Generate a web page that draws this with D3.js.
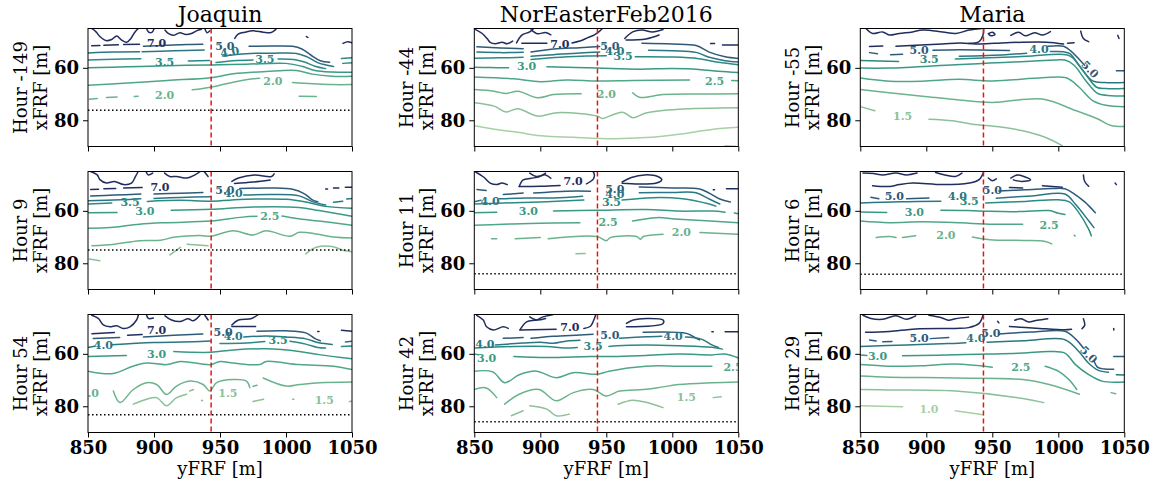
<!DOCTYPE html>
<html>
<head>
<meta charset="utf-8">
<script src="https://cdn.jsdelivr.net/npm/d3@7"></script>
<style>
  body { margin: 0; background: #fff; }
  svg { display: block; }
  text { font-family: "DejaVu Serif", serif; }
</style>
</head>
<body>
<svg id="chart" width="1156" height="485"></svg>
<script>
// ---- storms, hours and reference lines -------------------------------------
const storms = ["Joaquin", "NorEasterFeb2016", "Maria"];
const joaquinHours = [-149, 9, 54];
const noreasterHours = [-44, 11, 42];
const mariaHours = [-55, 6, 29];
const joaquinLimits = [76.2, 74.9, 83.2];     // dotted xFRF line, per hour
const noreasterLimits = [null, 84.0, 85.9];
const mariaLimits = [null, 84.2, null];
const pierY = 943.3;                           // red dashed yFRF line

const levels = [1.0, 1.5, 2.0, 2.5, 3.0, 3.5, 4.0, 5.0, 7.0];
const levelColors = ["#a9d0a5", "#8cc198", "#6bb38c", "#4fa787", "#3a9985",
                     "#2b8a83", "#2b7682", "#2e5a79", "#212d5d"];
const xTicks = [850, 900, 950, 1000, 1050];
const yTicks = [60, 80];
const xDomain = [850, 1050];
const yDomain = [45, 90];

// ---- contour segments: [level, [[yFRF, xFRF], ...]] -------------------------
const joaquinA = [
  [7, [[852.8,45],[856.1,46.3],[859.1,48.1],[863.6,49.6],[867.9,49.2],[871.7,47.9],[875.5,49.4],[879.3,50.2],[882.5,48.8],[884.8,46.9],[887.3,45.4],[888.3,45]]],
  [7, [[894.4,45],[895.9,46.4],[898.4,46.5],[899.9,45.3]]],
  [7, [[908.3,45.6],[910.8,46.9],[914.6,47.6],[919.6,46.6],[924.1,47.3],[928.4,46.9],[932.2,45.9],[936,45.3]]],
  [7, [[938.5,45],[940.3,46.6],[942.3,45.9]]],
  [7, [[961.2,48.8],[963.7,47.1],[968.8,46.4],[975.1,45.9],[982.7,46.4],[988.2,46.6],[991.7,45.6],[992.7,45]]],
  [7, [[1015.4,48.1],[1016.6,48.4]]],
  [7, [[1043.2,50.7],[1046.2,50.1],[1050,50.4]]],
  [7, [[852.8,51.6],[859,51.5]]], [7, [[862,51.4],[873,51.2]]], [7, [[877,51.1],[889,51.0]]],
  [5, [[892,51.8],[910,51.4],[925,51.1],[937,51.0]]],
  [5, [[972,51.8],[990,51.7],[1005,51.8],[1012,52.8],[1019,55.2],[1026,57.3],[1033,57.9]]],
  [4, [[850,54.3],[870,54.0],[889,53.9]]], [4, [[891,53.9],[915,53.5],[938,53.2]]],
  [4, [[952,55.5],[970,54.6],[990,54.4],[1008,54.5],[1016,55.8],[1024,58.0],[1036,59.5]]],
  [3.5, [[850,57.0],[870,56.7],[890,56.5]]], [3.5, [[926,57.4],[942,57.2]]],
  [3.5, [[947,58.0],[960,57.3],[975,57.0]]],
  [3.5, [[994,56.6],[1006,56.8],[1014,57.8],[1022,59.4],[1030,60.3]]],
  [3.5, [[1042,56.4],[1050,56.2]]], [3.5, [[1043,58.3],[1050,58.1]]],
  [3, [[850,60.0],[880,59.6],[910,59.2],[943,58.9],[970,58.6],[1000,58.3],[1012,59.4],[1022,61.0],[1035,61.6],[1050,61.7]]],
  [2.5, [[850,66.6],[880,65.8],[910,64.8],[943,63.8],[960,62.3],[985,61.4],[1008,61.0],[1020,62.4],[1035,63.2],[1050,63.2]]],
  [2, [[851,72.0],[857,71.7]]], [2, [[864,71.3],[872,71.1]]], [2, [[885,70.9],[888,70.8]]],
  [2, [[929,68.4],[943,67.4],[960,65.5],[975,64.2],[980,64.0]]],
  [2, [[1005,65.6],[1020,66.1],[1035,66.4],[1050,66.4]]],
  [2, [[1010,70.8],[1023,70.9]]]
];
const joaquinALabels = [[7,902,50.7,0],[5,953.7,51.9,0],[4,957.4,54.0,-10],[3.5,908,57.7,0],
  [3.5,984,56.8,0],[2,908,70.4,0],[2,990,65.1,0]];

const joaquinB = [
  [7, [[852,45],[857,46.3],[859,48.1],[864,49.4],[870,48.8],[877,50],[883,49.4],[886,46.9],[888,45]]],
  [7, [[894,45],[895.5,46.3],[899,45.6]]],
  [7, [[908,45.6],[912,46.9],[917,46.9],[925,47.5],[931,46.3],[935,45]]],
  [7, [[938,45],[941,46.9]]],
  [7, [[959,48.8],[964,47.5],[976,46.3],[989,46.9],[991,45.9]]],
  [7, [[961,49.6],[975,49.0],[988,48.2]]],
  [7, [[1030,51.7],[1031.5,51.7]]], [7, [[1036,51.3],[1040,51.3]]], [7, [[1045,51.0],[1050,51.0]]],
  [7, [[852,51.9],[858,51.8]]], [7, [[862,51.6],[871,51.5]]], [7, [[877,51.3],[891,51.1]]],
  [5, [[852,54.3],[870,54.0],[890,53.6]]], [5, [[900,53.6],[920,53.3],[937,53.0]]],
  [5, [[965,51.5],[990,51.3],[1005,51.8],[1014,53.5],[1020,55.8],[1024,56.5]]],
  [4, [[850,56.2],[875,55.8],[890,55.4]]], [4, [[900,55.3],[920,54.9],[943,54.6]]],
  [4, [[968,54.0],[990,53.8],[1010,54.3],[1020,56.5],[1030,57.8]]],
  [4, [[1036,56.7],[1043,56.3]]], [4, [[1046,55.5],[1050,55.3]]],
  [3.5, [[850,57.4],[868,57.0]]],
  [3.5, [[895,56.4],[920,56.0],[943,56.3],[970,55.6],[1000,55.6],[1015,56.6],[1030,58.3],[1050,59.0]]],
  [3, [[850,60.7],[872,60.6]]],
  [3, [[913,59.8],[943,59.4],[975,58.5],[1010,58.7],[1025,59.9],[1050,62.1]]],
  [2.5, [[850,66.6],[867,66.4],[889,65.1],[910,64.5],[943,63.9],[967,62.4],[978,62.1]]],
  [2.5, [[997,62.0],[1008,62.9],[1025,63.9],[1050,65.5]]],
  [2, [[853,73.3],[870,72.7],[889,71.4],[905,71.2],[916,70.0],[935,69.4],[943,69.7],[960,67.6],[975,69.2],[985,67.6],[1003,69.7],[1010,68.2],[1023,68.8],[1036,70.0],[1050,70.4]]],
  [1.5, [[851,78.4],[859,79.0]]], [1.5, [[912,76.8],[920,73.9]]], [1.5, [[925,72.7],[941,73.3]]],
  [1.5, [[1015,76.4],[1023,73.9],[1035,73.6],[1043,75.0],[1050,75.6]]]
];
const joaquinBLabels = [[7,904.5,50.9,0],[5,953.7,52.2,0],[4,960,53.2,0],[3.5,881.8,56.7,0],
  [3,893,60.1,0],[2.5,987.7,62.0,0]];

const joaquinC = [
  [7, [[852.8,45.3],[857.8,46.5],[861.6,49.0],[866.6,49.7],[871.7,49.3],[876.7,50.3],[881.8,49.7],[886.8,47.1],[888.1,45.3]]],
  [7, [[894.4,45.3],[895.7,46.5],[899.5,46.3]]],
  [7, [[908.3,45.5],[913.3,47.1],[919.6,47.7],[925.9,46.6],[929.7,47.4],[934.8,45.3]]],
  [7, [[938.5,45.3],[941,47.1]]],
  [7, [[959,49.0],[964,47.1],[974,46.5],[979,45]]],
  [7, [[959,49.6],[977,49.6]]],
  [7, [[1024,51.5],[1025,51.5]]], [7, [[1042,51.0],[1050,51.4]]],
  [7, [[853,52.3],[870,51.9]]], [7, [[880,52.9],[891,52.6]]],
  [5, [[854,54.2],[874,53.8]]], [5, [[892,53.6],[915,52.9],[937,52.4]]],
  [5, [[978,51.4],[1000,51.2],[1015,52.0],[1022,54.2],[1026,55.0]]],
  [4, [[850,57.6],[855,57.1]]], [4, [[868,56.5],[900,55.7],[935,55.3],[943,55.1]]],
  [4, [[968,53.6],[985,53.2],[1000,53.6],[1015,54.3],[1025,55.8],[1035,56.4]]],
  [4, [[1045,55.5],[1050,55.2]]],
  [3.5, [[950,56.1],[970,55.9],[984,55.3]]],
  [3.5, [[1003,55.2],[1015,56.3],[1024,57.6],[1030,57.8]]], [3.5, [[1042,57.2],[1050,57.0]]],
  [3, [[850,61.0],[879,60.6]]],
  [3, [[915,59.1],[943,59.4],[960,58.5],[985,58.1],[1010,59.1],[1025,60.3],[1050,61.9]]],
  [2.5, [[850,66.6],[869,67.5],[884,64.7],[894,63.5],[910,64.1],[920,62.9],[943,64.1],[950,62.9],[960,63.5],[980,64.1],[985,62.9],[1010,64.1],[1036,64.7],[1050,66.0]]],
  [2, [[869.2,74.2],[874.2,78.6],[884.3,73.6],[894.4,71.0],[902,71.7],[909.5,75.5],[917.1,72.3],[927.2,70.4],[937.3,71.7],[942.3,74.2],[947.4,71.0],[960,69.8],[970,70.4],[972.6,72.9]]],
  [2, [[975,72.4],[978,72.0]]],
  [2, [[982.7,69.2],[1000.3,72.3],[1010.4,71.7],[1025.5,71.0],[1050,70.7]]],
  [1.5, [[884.3,79.2],[894.4,77.3],[902,76.7],[909.5,79.8],[917.1,76.7],[924.7,75.4]]],
  [1.5, [[927,74.2],[930,73.6]]], [1.5, [[936,77.7],[936.8,77.9]]],
  [1.5, [[975,78.2],[983,77.3]]], [1.5, [[1005,77.3],[1006,77.3]]], [1.5, [[1048,78.2],[1050,78.1]]]
];
const joaquinCLabels = [[7,902,50.9,0],[5,952.4,51.9,0],[4,960,53.4,0],[3.5,994,54.7,0],
  [4,861.6,56.6,0],[3,902,60.1,0],[1.5,956,74.8,0],[1.5,1029,77.7,0],[2,851,74.8,0]];

const noreasterA = [
  [7, [[851,45.4],[856,46.9],[860,49],[862,50.3],[866,50.8],[871,50.2],[875,50.8],[879,49.8]]],
  [7, [[882,50.5],[886,47.5],[892,46.3],[895,45]]],
  [7, [[893,45.5],[898,47.0],[904,46.5],[908,47.4]]],
  [7, [[886,50.6],[905,50.6]]],
  [7, [[924,50.5],[930,49.8],[936,48.5],[941,47.4],[945,46],[947,45]]],
  [7, [[964,48.8],[970,46.3],[977,45.6],[985,46.3],[993,45.4]]],
  [7, [[965,49.4],[980,49.0],[990,47.5]]],
  [7, [[1029,50.7],[1032,50.7]]], [7, [[1038,51.3],[1050,51.3]]],
  [5, [[852,52.0],[870,52.4],[887,52.7]]], [5, [[893,54.0],[910,52.8],[930,52.3],[945,51.9]]],
  [5, [[977,50.6],[1000,50.9],[1018,51.5],[1028,54.0],[1040,55.8],[1050,56.4]]],
  [4, [[852,54.0],[870,54.2],[887,54.1]]], [4, [[893,55.6],[910,55.0],[930,54.3],[945,54.0]]],
  [4, [[982,53.3],[1000,53.5],[1018,54.1],[1028,56.0],[1040,57.3],[1050,57.8]]],
  [3.5, [[850,56.3],[870,56.2],[887,56.0]]], [3.5, [[893,56.8],[915,56.0],[935,55.5],[950,55.4]]],
  [3.5, [[972,55.8],[1000,55.9],[1020,56.5],[1035,57.9],[1050,58.8]]],
  [3, [[850,59.8],[862,59.9],[876,60.0]]],
  [3, [[905,59.6],[943,60.1],[975,60.5],[1000,60.3],[1020,60.6],[1035,61.3],[1050,61.8]]],
  [2.5, [[850,63.5],[880,64.2],[900,65.3],[920,64.6],[943,65.0],[970,64.8],[1013,64.6]]],
  [2.5, [[1045,64.8],[1050,64.9]]],
  [2, [[850,68.3],[865,68.9],[874,69.8],[883,68.9],[898,71.4],[910,70.2],[931,69.9]]],
  [2, [[970,69.5],[975,71.2],[993,70.2],[1020,70.0],[1050,69.9]]],
  [1.5, [[850,73.3],[865,74.6],[874,76.8],[883,75.6],[898,78.4],[913,77.1],[943,78.4],[947,79.3],[956,77.7],[963,77.0],[970,79.0],[980,77.2],[1005,75.8],[1050,75.2]]],
  [1, [[850,82.1],[865,83.4],[883,84.6],[900,85.9],[925,86.5],[956,87.0],[980,86.6],[1005,85.3],[1030,83.5],[1050,82.7]]],
  [1, [[1040,89.7],[1048,89.9]]]
];
const noreasterALabels = [[7,914.8,50.9,0],[5,952.6,51.9,0],[4,956.4,53.5,0],[3.5,962.7,55.5,0],
  [3,889.6,59.5,0],[2.5,1032,64.9,0],[2,950,70.2,0]];

const noreasterB = [
  [7, [[851,45.2],[857,47.1],[862,49.4],[867,50.0],[871,49.4],[875,50.0]]],
  [7, [[884,50.7],[887,48.2],[893,47.6],[899,47.0],[904,45.6]]],
  [7, [[892,45.6],[897,46.9],[904,46.3],[908,47.6]]],
  [7, [[884,50.7],[900,50.6],[915,50.3]]],
  [7, [[935,49.7],[940,48.0],[941,46.3],[940,45]]],
  [7, [[962,49.0],[969,47.3],[979,46.3],[989,46.9],[992,48.2],[988,49.4],[975,49.8],[962,49.5]]],
  [7, [[1031,52.0],[1032,52.0]]], [7, [[1041,51.6],[1050,51.6]]],
  [5, [[852,51.9],[859,52.2]]], [5, [[872,53.8],[887,53.2]]], [5, [[895,53.2],[920,52.5],[938,52.5]]],
  [5, [[975,50.9],[1000,51.3],[1020,51.6],[1027,53.0],[1036,55.5],[1044,56.6]]],
  [4, [[850,56.5],[855,56.0]]], [4, [[869,55.4],[890,55.1],[910,55.1],[932,54.4]]],
  [4, [[975,53.1],[1000,53.0],[1018,53.1],[1028,55.5],[1036,57.4]]],
  [3.5, [[850,57.4],[880,56.9],[905,56.5],[933,55.9]]],
  [3.5, [[962,55.9],[985,55.0],[1006,55.3],[1028,57.4],[1033,58.2]]],
  [3, [[850,60.7],[867,60.5]]],
  [3, [[910,60.1],[943,59.8],[980,59.5],[1005,60.1],[1030,60.1],[1040,60.5]]],
  [3, [[1047,60.8],[1050,61.1]]],
  [2.5, [[850,65.5],[872,65.1],[892,64.8],[930,64.5]]],
  [2.5, [[970,63.9],[988,62.6],[1005,63.2],[1050,64.5]]],
  [2, [[863,70.6],[867,70.6]]], [2, [[881,70.6],[900,70.2]]],
  [2, [[906,70.6],[943,69.8],[950,71.4],[953,70.2],[973,69.8],[976,70.8],[978,69.8],[993,68.9]]],
  [2, [[1021,68.3],[1050,68.9]]],
  [1.5, [[927,76.4],[934,76.3]]]
];
const noreasterBLabels = [[7,924.9,48.8,0],[5,956.4,51.7,0],[4,956.4,53.6,0],[3.5,953.9,56.7,0],
  [4,861.9,56.3,0],[3,890.9,60.1,0],[2.5,951.4,64.2,0],[2,1006.9,68.3,0]];

const noreasterC = [
  [7, [[851.8,45.3],[856.8,47.1],[859.3,49.7],[864.4,50.9],[871.9,49.7],[875.7,50.3]]],
  [7, [[884.6,50.9],[889.6,47.8],[897.2,47.1],[902.2,45.9],[909.8,45]]],
  [7, [[892,45.9],[897,47.1],[904,46.5]]],
  [7, [[884.6,50.9],[912,50.6]]],
  [7, [[933,50.3],[938,49.5],[941,46.5],[942,45]]],
  [7, [[965.3,48.4],[970.4,47.1],[980.5,46.5],[993,47.1],[993,48.4],[965.3,49.7]]],
  [7, [[1030,51.6],[1031,51.6]]], [7, [[1040,51.6],[1050,51.6]]],
  [5, [[872,54.1],[887,53.8]]], [5, [[893,54.1],[910,53.3],[930,52.8],[940,52.5]]],
  [5, [[977.9,51.8],[1010.7,52.2],[1018.2,54.1],[1020.7,54.7]]],
  [4, [[866,56.6],[887,55.9],[900,55.6],[910,56.0],[920,55.1],[930,54.8]]],
  [4, [[960,54.1],[980,53.5],[992,53.3]]],
  [4, [[1010,53.6],[1022,54.4],[1030,56.6],[1035,57.6]]],
  [3.5, [[850,57.8],[880,57.2],[905,57.2],[918,57.8],[928,57.6]]],
  [3.5, [[952,57.2],[958,56.9],[980,56.6],[1005,56.9],[1030,57.5],[1038,58.2]]],
  [3, [[850,60.1],[853,60.3]]],
  [3, [[880,61.0],[905,61.4],[938,61.0],[955,61.0],[980,60.6],[1005,60.1],[1030,60.4],[1040,60.1],[1050,61.6]]],
  [2.5, [[850,66.6],[864,66.9],[873,71.0],[884,68.0],[897,66.6],[912,69.1],[925,67.2],[943,67.8],[952,66.6],[980,64.7],[1005,64.7],[1030,64.7]]],
  [2, [[850,73.6],[859,73.0],[867,76.7]]],
  [2, [[873,79.2],[884,75.4],[899,73.6],[912,77.9],[925,74.8],[940,73.6],[950,76.1],[960,74.2],[978,73.6],[988,73.0],[1005,71.7],[1030,71.0],[1050,70.7]]],
  [1.5, [[878,83.6],[887,81.7]]], [1.5, [[892,79.8],[905,81.1],[912,83.6],[922,83.0]]],
  [1.5, [[959,79.2],[970,77.7],[980,78.5],[993,80.5]]], [1.5, [[1031,76.7],[1037,76.4]]]
];
const noreasterCLabels = [[7,922.4,49.7,0],[5,952.6,52.8,0],[4,1000.6,53.4,0],[4,858,56.3,0],
  [3.5,940,57.2,0],[3,859.3,61.6,0],[2.5,1046,65.1,0],[1.5,1010.7,76.7,0]];

const mariaA = [
  [7, [[854.3,45],[859.3,46.9],[866.9,46.3],[871.9,47.5],[879.5,46.9],[889.6,46.3],[897.2,45.6],[912.3,46.3],[922.4,46.9],[932.5,45.6],[942,45]]],
  [7, [[857,51.9],[867,51.7]]],
  [7, [[877,51.8],[912,50.9],[925.5,50.5],[940.7,50.9],[961,50.4],[991,50.2],[1004,50.9]]],
  [7, [[932,50.7],[940,50],[943,47.5],[943.5,45]]],
  [7, [[947,47.0],[949,47.8],[952,47.2],[950,46.4],[947,47.0]]],
  [7, [[964,47.6],[970,46.4],[975,47.8],[982,46.6],[988,47.5],[994,46.2]]],
  [7, [[1007,50.6],[1012,50.4]]],
  [7, [[1017,46.0],[1019,48.8],[1023,50.0]]],
  [7, [[1045,47.6],[1046,48.8]]],
  [5, [[857,54.2],[863,54.6]]], [5, [[873,55.0],[882,54.8]]],
  [5, [[905,53.3],[925,53.1],[963,53.4]]],
  [5, [[992,51.8],[1004,51.8],[1010,53.8],[1017,57.4],[1020,59.0]]],
  [5, [[1044,61.1],[1050,61.1]]],
  [4, [[925,55.6],[960,55.0],[976,54.4]]],
  [4, [[994,53.8],[1004,53.9],[1009,54.7],[1016,59.3],[1026,65.0],[1035,65.6],[1050,65.6]]],
  [3.5, [[850,57.2],[879,57.6]]],
  [3.5, [[922,56.6],[948,56.2],[976,55.6],[1006,55.0],[1011,56.2],[1020,61.9],[1029,67.4],[1036,67.9],[1050,67.9]]],
  [3, [[850,60.1],[872,60.1],[922,58.8],[948,58.2],[975,57.6],[998,57.0],[1005,57.0],[1012,59.0],[1021,65.0],[1030,69.8],[1040,70.6],[1050,70.7]]],
  [2.5, [[850,63.9],[872,65.1],[897,65.1],[925,64.4],[950,65.0],[988,63.8],[1006,63.8],[1016,67.5],[1026,72.5],[1036,74.3],[1050,74.8]]],
  [2, [[850,68.3],[872,69.5],[897,70.8],[925,72.3],[950,73.2],[988,71.9],[1013,76.3],[1030,79.5],[1040,82.0],[1050,82.4]]],
  [1.5, [[850,74.8],[861,76.4]]],
  [1.5, [[902,79.6],[920,80.2],[935,81.5],[955,82.5],[973,84.0],[990,86.5],[1003,89.7]]]
];
const mariaALabels = [[5,894.6,53.4,0],[3.5,902.2,56.7,0],[4,985.4,52.9,0],[5,1024,60.6,45],[1.5,882,78.3,0]];

const mariaB = [
  [7, [[852,45.6],[860,45.8],[867,46.3],[877,45.6],[885,46.3],[893,45.6]]],
  [7, [[907,45.4],[914,46.3],[922,46.9],[927,45.6]]],
  [7, [[859.3,50.4],[872,50.7],[879.5,50.0],[889.6,49.4],[912.3,50.0],[932.5,49.4],[940,48.1],[943.6,45]]],
  [7, [[947,47.5],[950,48.5],[953,47.8]]],
  [7, [[964,47.5],[969,46.3],[974,46.9],[979,48.2],[972,48.8],[966,48.2]]],
  [7, [[963,51.1],[973,51.3]]],
  [7, [[988,50.4],[1003,51.0]]],
  [7, [[1019,46.3],[1020,48.8],[1023,50.6]]],
  [7, [[1043,49.4],[1044,50.0]]],
  [5, [[858,54.8],[864,55.4]]], [5, [[885,55.4],[902,55.1]]],
  [5, [[955,52.4],[975,52.0],[995,51.5],[1005,51.6],[1012,53.5],[1020,56.6],[1028,60.7]]],
  [4, [[850,57.0],[880,56.5],[911,56.3]]],
  [4, [[953,55.2],[980,54.3],[1005,53.6],[1013,57.5],[1023,63.8],[1027,66.4]]],
  [3.5, [[945,57.0],[975,56.4],[1000,55.8],[1008,56.5],[1015,60.3],[1023,67.0],[1025,69.5]]],
  [3, [[850,60.4],[870,60.6]]],
  [3, [[911,59.8],[932,59.9],[948,60.2],[970,60.3],[993,59.9],[1000,60.9],[1005,61.4]]],
  [2.5, [[850,63.9],[872,64.5],[897,64.2],[932,64.7],[948,65.1],[973,65.1]]],
  [2.5, [[1012,69.3],[1012.7,69.6]]],
  [2, [[862,70.2],[872,69.8],[877,70.2]]], [2, [[882,70.2],[892,69.5]]],
  [2, [[935,70.0],[948,71.0],[973,71.3],[990,71.7],[995,72.6]]]
];
const mariaBLabels = [[5,875.7,54.4,0],[4,923.6,54.4,0],[3.5,932.5,56.3,0],[5,950.1,52.2,0],
  [3,890.9,60.5,0],[2.5,993,65.5,0],[2,914.8,69.3,0]];

const mariaC = [
  [7, [[852,45.3],[858,46.5],[867,46.8],[877,45.5],[885,46.8],[892,45.5]]],
  [7, [[902,45.3],[912,46.3],[917,47.2],[922,46.6],[932,46.0]]],
  [7, [[854,51.8],[872,51.5],[892,50.5],[922,50.3],[932,50.0],[940,48.4],[943,45.2]]],
  [7, [[954,47.6],[955,48.2]]],
  [7, [[967,47.2],[972,46.6],[977,47.8],[984,47.2],[992,46.6]]],
  [7, [[963,49.6],[983,50.2],[1005,50.8],[1010,50.6]]],
  [7, [[1019,46.6],[1020,49.1],[1018,50.4]]],
  [7, [[1042,50.3],[1042,50.9]]],
  [5, [[857,54.7],[862,55.1]]], [5, [[867,55.4],[874,55.3]]], [5, [[903,54.2],[917,53.8]]],
  [5, [[955,52.4],[980,51.7],[1005,51.4],[1013,54.3],[1019,57.8]]],
  [5, [[1027,62.6],[1030,65.2],[1035,65.8],[1042,65.9]]],
  [5, [[1042,61.0],[1050,61.0]]],
  [4, [[850,57.2],[885,56.6],[917,56.1],[930,55.8]]],
  [4, [[946,55.6],[975,55.0],[1005,54.6],[1015,58.8],[1023,63.6],[1030,66.2],[1038,67.0]]],
  [4, [[1044,68.0],[1050,68.1]]],
  [3, [[850,60.4],[855,60.6]]],
  [3, [[882,60.7],[930,60.3],[947,60.1],[973,59.7],[993,59.1],[1005,59.7],[1013,64.1],[1023,67.9],[1033,70.4],[1050,70.7]]],
  [2.5, [[850,64.1],[872,64.7],[897,64.5],[922,63.9],[950,65.1]]],
  [2.5, [[990,64.7],[1000,66.6],[1008,69.8],[1014,73.6]]],
  [2, [[850,68.5],[872,68.9],[922,69.2],[973,69.8],[993,71.7],[1016,75.4]]],
  [2, [[1040,74.8],[1043.5,75.2]]],
  [1.5, [[850,73.6],[872,73.8],[922,74.2],[973,77.0],[989,78.6]]],
  [1, [[850,79.8],[882,80.2]]], [1, [[922,81.7],[943,83.2]]]
];
const mariaCLabels = [[5,894.6,54.1,0],[4,937.5,54.1,0],[5,948.9,52.2,0],[3,863,60.7,0],
  [2.5,971.6,65.1,0],[5,1023,60.3,45],[1,902,81.1,0]];

// ---- layout ----------------------------------------------------------------
const colLeft = [88, 474.3, 860.3];
const rowTop = [28.5, 171.5, 314.5];
const W = 264, H = 118;

const panels = [
  {col: 0, row: 0, hour: joaquinHours[0], limit: joaquinLimits[0], lines: joaquinA, labels: joaquinALabels},
  {col: 0, row: 1, hour: joaquinHours[1], limit: joaquinLimits[1], lines: joaquinB, labels: joaquinBLabels},
  {col: 0, row: 2, hour: joaquinHours[2], limit: joaquinLimits[2], lines: joaquinC, labels: joaquinCLabels},
  {col: 1, row: 0, hour: noreasterHours[0], limit: noreasterLimits[0], lines: noreasterA, labels: noreasterALabels},
  {col: 1, row: 1, hour: noreasterHours[1], limit: noreasterLimits[1], lines: noreasterB, labels: noreasterBLabels},
  {col: 1, row: 2, hour: noreasterHours[2], limit: noreasterLimits[2], lines: noreasterC, labels: noreasterCLabels},
  {col: 2, row: 0, hour: mariaHours[0], limit: mariaLimits[0], lines: mariaA, labels: mariaALabels},
  {col: 2, row: 1, hour: mariaHours[1], limit: mariaLimits[1], lines: mariaB, labels: mariaBLabels},
  {col: 2, row: 2, hour: mariaHours[2], limit: mariaLimits[2], lines: mariaC, labels: mariaCLabels}
];

const color = d3.scaleOrdinal().domain(levels).range(levelColors);
const x = d3.scaleLinear().domain(xDomain).range([0, W]);
const y = d3.scaleLinear().domain(yDomain).range([0, H]);
const line = d3.line().x(d => x(d[0])).y(d => y(d[1])).curve(d3.curveCatmullRom.alpha(0.5));

const svg = d3.select("#chart");

// column titles
storms.forEach((s, i) => {
  svg.append("text")
    .attr("x", colLeft[i] + W / 2).attr("y", 22)
    .attr("text-anchor", "middle")
    .style("font-size", "22px").attr("fill", "#000")
    .text(s);
});

panels.forEach((p, k) => {
  const g = svg.append("g").attr("transform", `translate(${colLeft[p.col]},${rowTop[p.row]})`);

  g.append("clipPath").attr("id", "clip" + k)
    .append("rect").attr("width", W).attr("height", H);

  const body = g.append("g").attr("clip-path", `url(#clip${k})`);

  // contour lines
  body.selectAll("path.contour").data(p.lines).join("path")
    .attr("class", "contour")
    .attr("d", d => line(d[1]))
    .attr("fill", "none")
    .attr("stroke", d => color(d[0]))
    .attr("stroke-width", 1.5)
    .attr("stroke-linejoin", "round")
    .attr("stroke-linecap", "round");

  // inline contour labels
  body.selectAll("text.clabel").data(p.labels).join("text")
    .attr("class", "clabel")
    .attr("transform", d => `translate(${x(d[1])},${y(d[2])}) rotate(${d[3]})`)
    .attr("text-anchor", "middle")
    .attr("dy", "0.35em")
    .style("font-size", "11px").style("font-weight", "bold")
    .attr("fill", d => color(d[0]))
    .text(d => d[0].toFixed(1));

  // dotted cross-shore limit
  if (p.limit !== null) {
    body.append("line")
      .attr("x1", 0).attr("x2", W)
      .attr("y1", y(p.limit)).attr("y2", y(p.limit))
      .attr("stroke", "#000").attr("stroke-width", 1.5)
      .attr("stroke-dasharray", "1.5,2.5");
  }

  // red dashed alongshore location
  body.append("line")
    .attr("x1", x(pierY)).attr("x2", x(pierY))
    .attr("y1", 0).attr("y2", H)
    .attr("stroke", "#ee1111").attr("stroke-width", 1.5)
    .attr("stroke-dasharray", "5,3");

  // axes
  const xAxis = d3.axisBottom(x).tickValues(xTicks).tickSize(5).tickPadding(4)
    .tickFormat(p.row === 2 ? d3.format("d") : () => "");
  const ax = g.append("g").attr("transform", `translate(0,${H})`).call(xAxis);
  ax.select(".domain").remove();
  ax.selectAll("line").attr("stroke", "#000");
  ax.selectAll("text").attr("fill", "#000")
    .style("font-family", "'DejaVu Serif', serif").style("font-size", "18px").style("font-weight", "bold");

  const yAxis = d3.axisLeft(y).tickValues(yTicks).tickSize(5).tickPadding(4).tickFormat(d3.format("d"));
  const ay = g.append("g").call(yAxis);
  ay.select(".domain").remove();
  ay.selectAll("line").attr("stroke", "#000");
  ay.selectAll("text").attr("fill", "#000")
    .style("font-family", "'DejaVu Serif', serif").style("font-size", "18px").style("font-weight", "bold");

  // frame
  g.append("rect").attr("width", W).attr("height", H)
    .attr("fill", "none").attr("stroke", "#000").attr("stroke-width", 1);

  // y label (two lines)
  g.append("text")
    .attr("transform", `translate(-61,${H / 2}) rotate(-90)`)
    .attr("text-anchor", "middle").style("font-size", "18px").attr("fill", "#000")
    .text(`Hour ${p.hour}`);
  g.append("text")
    .attr("transform", `translate(-41,${H / 2}) rotate(-90)`)
    .attr("text-anchor", "middle").style("font-size", "18px").attr("fill", "#000")
    .text("xFRF [m]");

  if (p.row === 2) {
    g.append("text")
      .attr("x", W / 2).attr("y", H + 42)
      .attr("text-anchor", "middle").style("font-size", "18px").attr("fill", "#000")
      .text("yFRF [m]");
  }
});
</script>
</body>
</html>
